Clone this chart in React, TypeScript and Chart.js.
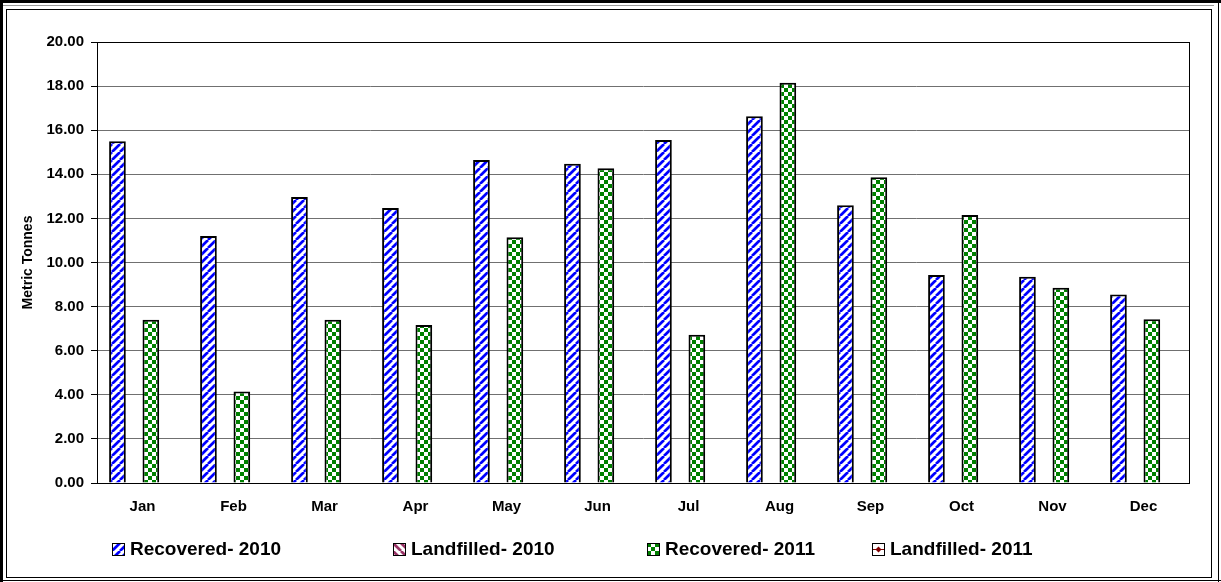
import { useEffect, useRef } from 'react';
import { Chart, registerables } from 'chart.js';

Chart.register(...registerables);

const months = ['Jan', 'Feb', 'Mar', 'Apr', 'May', 'Jun', 'Jul', 'Aug', 'Sep', 'Oct', 'Nov', 'Dec'];
const recovered2010 = [15.5, 11.2, 12.97, 12.47, 14.65, 14.48, 15.55, 16.63, 12.6, 9.43, 9.35, 8.55];
const landfilled2010: (number | null)[] = [null, null, null, null, null, null, null, null, null, null, null, null];
const recovered2011 = [7.4, 4.15, 7.4, 7.17, 11.15, 14.28, 6.72, 18.15, 13.87, 12.15, 8.85, 7.43];
const landfilled2011: (number | null)[] = [null, null, null, null, null, null, null, null, null, null, null, null];
const seriesLabels = ['Recovered- 2010', 'Landfilled- 2010', 'Recovered- 2011', 'Landfilled- 2011'];
const yMin = 0;
const yMax = 20;
const yStep = 2;

const W = 1221;
const H = 582;
const FONT = "'Liberation Sans', Arial, sans-serif";

function makeTile(draw: (c: CanvasRenderingContext2D) => void, size: number): CanvasPattern {
  const cv = document.createElement('canvas');
  cv.width = size;
  cv.height = size;
  const c = cv.getContext('2d')!;
  c.fillStyle = '#ffffff';
  c.fillRect(0, 0, size, size);
  draw(c);
  return c.createPattern(cv, 'repeat')!;
}

function stripePattern(color: string, forward: boolean): CanvasPattern {
  const s = 8;
  return makeTile((c) => {
    c.strokeStyle = color;
    c.lineWidth = 2.7;
    c.beginPath();
    for (let k = -1; k <= 1; k++) {
      if (forward) {
        c.moveTo(k * s, s);
        c.lineTo(k * s + s, 0);
      } else {
        c.moveTo(k * s, 0);
        c.lineTo(k * s + s, s);
      }
    }
    c.stroke();
  }, s);
}

function checkerPattern(color: string): CanvasPattern {
  return makeTile((c) => {
    c.fillStyle = color;
    c.fillRect(0, 0, 4, 4);
    c.fillRect(4, 4, 4, 4);
  }, 8);
}

function diamondPattern(color: string): CanvasPattern {
  return makeTile((c) => {
    c.fillStyle = color;
    c.beginPath();
    c.moveTo(6.5, 3.5);
    c.lineTo(9.5, 6.5);
    c.lineTo(6.5, 9.5);
    c.lineTo(3.5, 6.5);
    c.closePath();
    c.fill();
    c.fillRect(1, 6, 3, 1);
    c.fillRect(9, 6, 3, 1);
  }, 13);
}

export default function App() {
  const ref = useRef<HTMLCanvasElement | null>(null);

  useEffect(() => {
    document.body.style.margin = '0';
    const canvas = ref.current!;
    const patterns = [
      stripePattern('#0000ff', true),
      stripePattern('#993366', false),
      checkerPattern('#008000'),
      diamondPattern('#800000'),
    ];

    const framePlugin = {
      id: 'frame',
      beforeDraw(chart: any) {
        const ctx = chart.ctx as CanvasRenderingContext2D;
        ctx.save();
        ctx.fillStyle = '#ffffff';
        ctx.fillRect(0, 0, W, H);
        ctx.fillStyle = '#000000';
        ctx.fillRect(0, 0, W, 3);
        ctx.fillRect(0, 0, 3, H);
        ctx.fillStyle = '#9a9a9a';
        ctx.fillRect(3, 5, 1211, 1);
        ctx.fillStyle = '#000000';
        ctx.fillRect(1218, 0, 1, H);
        ctx.fillRect(0, 580, W, 1);
        ctx.strokeStyle = '#000000';
        ctx.lineWidth = 1;
        ctx.strokeRect(6.5, 9.5, 1205, 568);
        ctx.restore();
      },
      afterDatasetsDraw(chart: any) {
        const { left, top, right, bottom } = chart.chartArea;
        const ctx = chart.ctx as CanvasRenderingContext2D;
        ctx.save();
        ctx.strokeStyle = '#000000';
        ctx.lineWidth = 1;
        const l = Math.round(left) + 0.5;
        const t = Math.round(top) + 0.5;
        const r = Math.round(right) + 0.5;
        const b = Math.round(bottom) + 0.5;
        ctx.strokeRect(l, t, r - l, b - t);
        ctx.restore();
      },
    };

    const legendX = [112 / W, 393 / W, 647 / W, 872 / W];
    const legendPlugin = {
      id: 'customLegend',
      afterDraw(chart: any) {
        const ctx = chart.ctx as CanvasRenderingContext2D;
        ctx.save();
        const cy = 549;
        const box = 13;
        ctx.font = `bold 19px ${FONT}`;
        ctx.textBaseline = 'middle';
        ctx.textAlign = 'left';
        chart.data.datasets.forEach((ds: any, i: number) => {
          const x = Math.round(legendX[i] * chart.width);
          const y = cy - 6;
          const pat = ds.backgroundColor as CanvasPattern;
          if (pat && (pat as any).setTransform) {
            pat.setTransform(new DOMMatrix().translate(x, y));
          }
          ctx.fillStyle = pat;
          ctx.fillRect(x, y, box, box);
          if (pat && (pat as any).setTransform) {
            pat.setTransform(new DOMMatrix());
          }
          ctx.strokeStyle = '#000000';
          ctx.lineWidth = 1;
          ctx.strokeRect(x + 0.5, y + 0.5, box - 1, box - 1);
          ctx.fillStyle = '#000000';
          ctx.fillText(ds.label, x + box + 5, cy + 1);
        });
        ctx.restore();
      },
    };

    const series = [recovered2010, landfilled2010, recovered2011, landfilled2011];
    const chart = new Chart(canvas, {
      type: 'bar',
      data: {
        labels: months,
        datasets: series.map((d, i) => ({
          label: seriesLabels[i],
          data: d as any,
          backgroundColor: patterns[i] as any,
          borderColor: '#000000',
          borderWidth: 2,
          categoryPercentage: 0.734,
          barPercentage: 1.0,
        })),
      },
      options: {
        responsive: false,
        animation: false,
        devicePixelRatio: 1,
        layout: { padding: { left: 0, top: 42, right: 32, bottom: 59 } },
        plugins: {
          legend: { display: false },
          tooltip: { enabled: false },
        },
        scales: {
          x: {
            grid: { display: false, drawTicks: false, tickLength: 0 },
            border: { display: true, color: '#000000', width: 1 },
            ticks: {
              color: '#000000',
              font: { family: FONT, size: 15, weight: 'bold' },
              padding: 15,
              maxRotation: 0,
            },
            afterFit(scale: any) {
              scale.height = 40;
            },
          },
          y: {
            min: yMin,
            max: yMax,
            grid: { color: '#707070', lineWidth: 1, tickLength: 6, drawTicks: true, tickColor: '#000000' },
            border: { display: true, color: '#000000', width: 1 },
            ticks: {
              stepSize: yStep,
              color: '#000000',
              padding: 7,
              font: { family: FONT, size: 15, weight: 'bold' },
              callback: (v: any) => Number(v).toFixed(2),
            },
            title: {
              display: true,
              text: 'Metric Tonnes',
              color: '#000000',
              font: { family: FONT, size: 14, weight: 'bold' },
              padding: { top: 20, bottom: 0 },
            },
            afterFit(scale: any) {
              scale.width = 97;
            },
          },
        },
      },
      plugins: [framePlugin, legendPlugin],
    });
    return () => chart.destroy();
  }, []);

  return (
    <div style={{ width: W, height: H }}>
      <canvas ref={ref} width={W} height={H} style={{ display: 'block', width: W, height: H }} />
    </div>
  );
}
